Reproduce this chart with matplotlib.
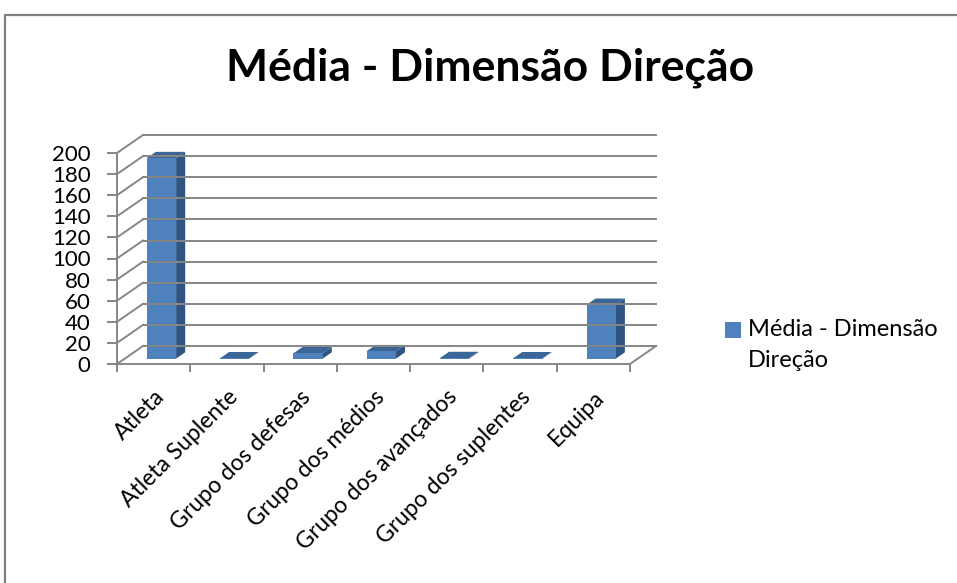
import matplotlib.pyplot as plt
from matplotlib.patches import Polygon, Rectangle
from matplotlib.lines import Line2D

plt.rcParams['font.family'] = ['Lato', 'DejaVu Sans']

categories = ["Atleta", "Atleta Suplente", "Grupo dos defesas", "Grupo dos médios",
              "Grupo dos avançados", "Grupo dos suplentes", "Equipa"]
values = [190, 0.3, 5, 7, 0.5, 0.3, 51]
yticks = list(range(0, 201, 20))
title = "Média - Dimensão Direção"
series_name = "Média - Dimensão\nDireção"

W, H = 957, 583
fig = plt.figure(figsize=(W / 100, H / 100), dpi=100)

# chart frame (runs off the right and bottom edge like the original)
fig.patches.append(Rectangle((5 / W, -0.1), 1.2, 1 - 15 / H + 0.1, transform=fig.transFigure,
                             fill=False, edgecolor='#7f7f7f', lw=1.6))

n = len(categories)
ax = fig.add_axes([117 / W, (H - 364) / H, 513 / W, 211 / H])
ax.set_xlim(0, n)
ax.set_ylim(0, 200)

# oblique depth offset, in data units
DX = 26 / (513 / n)
DY = 18 / (211 / 200)
grid_c = '#868686'

# back wall gridlines and side wall diagonals
for v in yticks:
    ax.add_line(Line2D([0, DX], [v, v + DY], color=grid_c, lw=1.4, clip_on=False))
    ax.add_line(Line2D([DX, n + DX], [v + DY, v + DY], color=grid_c, lw=1.4, clip_on=False))
ax.add_line(Line2D([n, n + DX], [0, DY], color=grid_c, lw=1.4, clip_on=False))

# bars
f0, f1 = 0.3, 0.65
half = 0.2
front_c, top_c, side_c = '#4f81bd', '#3b6698', '#2f5483'
for i, v in enumerate(values):
    xl = i + 0.5 - half
    xr = i + 0.5 + half
    ox0, oy0 = f0 * DX, f0 * DY
    ox1, oy1 = f1 * DX, f1 * DY
    side = [(xr + ox0, oy0), (xr + ox1, oy1), (xr + ox1, v + oy1), (xr + ox0, v + oy0)]
    top = [(xl + ox0, v + oy0), (xr + ox0, v + oy0), (xr + ox1, v + oy1), (xl + ox1, v + oy1)]
    front = [(xl + ox0, oy0), (xr + ox0, oy0), (xr + ox0, v + oy0), (xl + ox0, v + oy0)]
    ax.add_patch(Polygon(side, closed=True, facecolor=side_c, edgecolor='none', clip_on=False))
    ax.add_patch(Polygon(top, closed=True, facecolor=top_c, edgecolor='none', clip_on=False))
    ax.add_patch(Polygon(front, closed=True, facecolor=front_c, edgecolor='none', clip_on=False))

# axes styling
for s in ['top', 'right']:
    ax.spines[s].set_visible(False)
for s in ['left', 'bottom']:
    ax.spines[s].set_color(grid_c)
    ax.spines[s].set_linewidth(1.4)
ax.patch.set_visible(False)

ax.set_yticks(yticks)
ax.tick_params(axis='y', direction='out', length=7, width=1.4, color=grid_c,
               labelsize=16, pad=12)
ax.set_xticks(range(n + 1))
ax.set_xticklabels([])
ax.set_xticks([i + 0.5 for i in range(n)], minor=True)
ax.set_xticklabels(categories, minor=True, rotation=45, ha='right', va='top',
                   rotation_mode='anchor', fontsize=16.5)
ax.tick_params(axis='x', which='major', direction='out', length=6, width=1.4, color=grid_c)
ax.tick_params(axis='x', which='minor', length=0, pad=16)

fig.text(490 / W, 1 - 68 / H, title, fontsize=32, fontweight='bold', ha='center', va='center')

# legend: square key aligned with the first text line
fig.patches.append(Rectangle((725 / W, 1 - 338 / H), 16 / W, 16 / H, transform=fig.transFigure,
                             facecolor=front_c, edgecolor='none'))
fig.text(748 / W, 1 - 319 / H, series_name, fontsize=17, ha='left', va='top', linespacing=1.6)

fig.savefig('out.png', dpi=100)
